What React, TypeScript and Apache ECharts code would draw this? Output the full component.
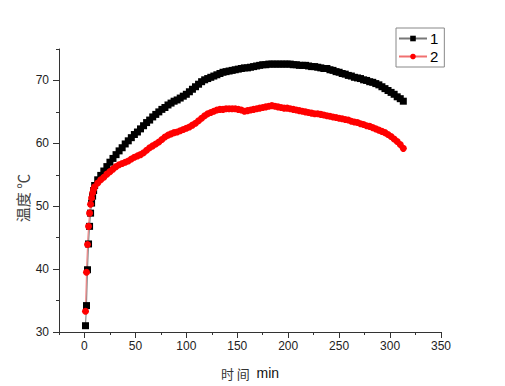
import React, { useEffect, useRef } from "react";
import * as echarts from "echarts";

// time (min)
const times: number[] = [
  1, 2, 3, 4, 5, 6, 7, 8, 9, 10,
  13, 16, 19, 22, 25, 28, 31, 34, 37, 40, 43, 46, 49, 52, 55, 58, 61, 64, 67, 70,
  73, 76, 79, 82, 85, 88, 91, 94, 97, 100, 103, 106, 109, 112, 115, 118, 121, 124, 127, 130,
  133, 136, 139, 142, 145, 148, 151, 154, 157, 160, 163, 166, 169, 172, 175, 178, 181, 184, 187, 190,
  193, 196, 199, 202, 205, 208, 211, 214, 217, 220, 223, 226, 229, 232, 235, 238, 241, 244, 247, 250,
  253, 256, 259, 262, 265, 268, 271, 274, 277, 280, 283, 286, 289, 292, 295, 298, 301, 304, 307, 310, 313,
];

// series "1" (black squares)
const series1: number[] = [
  31.0, 34.2, 39.9, 44.0, 46.8, 48.9, 50.5, 51.6, 52.5, 53.3,
  54.2, 54.9, 55.6, 56.3, 57.0, 57.6, 58.2, 58.8, 59.3, 59.9, 60.4, 60.9, 61.4, 61.8, 62.3, 62.8, 63.3, 63.7, 64.2, 64.6,
  65.0, 65.4, 65.7, 66.1, 66.4, 66.7, 66.9, 67.2, 67.5, 67.8, 68.2, 68.6, 69.0, 69.4, 69.8, 70.1, 70.3, 70.5, 70.7, 70.9,
  71.1, 71.3, 71.4, 71.5, 71.6, 71.7, 71.8, 71.9, 72.0, 72.0, 72.1, 72.2, 72.3, 72.4, 72.5, 72.5, 72.6, 72.6, 72.6, 72.6,
  72.6, 72.6, 72.6, 72.6, 72.5, 72.5, 72.4, 72.4, 72.4, 72.3, 72.2, 72.2, 72.1, 72.0, 71.9, 71.9, 71.7, 71.6, 71.4, 71.3,
  71.1, 71.0, 70.8, 70.7, 70.5, 70.4, 70.3, 70.1, 70.0, 69.8, 69.7, 69.5, 69.3, 69.0, 68.7, 68.4, 68.1, 67.8, 67.4, 67.1, 66.7,
];

// series "2" (red circles)
const series2: number[] = [
  33.3, 39.5, 43.9, 46.8, 48.9, 50.3, 51.3, 52.1, 52.7, 53.1,
  53.7, 54.2, 54.6, 55.1, 55.5, 55.9, 56.3, 56.6, 56.8, 57.0, 57.2, 57.5, 57.8, 58.0, 58.2, 58.5, 58.9, 59.3, 59.6, 59.9,
  60.2, 60.6, 61.0, 61.3, 61.5, 61.7, 61.8, 62.0, 62.2, 62.4, 62.6, 62.9, 63.2, 63.6, 64.0, 64.4, 64.7, 64.9, 65.1, 65.3,
  65.4, 65.4, 65.5, 65.5, 65.5, 65.5, 65.4, 65.3, 65.1, 65.2, 65.3, 65.4, 65.5, 65.6, 65.7, 65.8, 65.9, 66.0, 65.9, 65.8,
  65.7, 65.6, 65.6, 65.5, 65.4, 65.3, 65.2, 65.1, 65.0, 64.9, 64.8, 64.7, 64.7, 64.6, 64.5, 64.4, 64.3, 64.2, 64.1, 64.0,
  63.9, 63.8, 63.7, 63.5, 63.4, 63.3, 63.1, 63.0, 62.8, 62.7, 62.5, 62.3, 62.1, 61.9, 61.7, 61.4, 61.1, 60.7, 60.3, 59.8, 59.2,
];

const xMajor: number[] = [0, 50, 100, 150, 200, 250, 300, 350];
const xMinor: number[] = [-25, 25, 75, 125, 175, 225, 275, 325];
const yMajor: number[] = [30, 40, 50, 60, 70];
const yMinor: number[] = [35, 45, 55, 65, 75];

export default function App() {
  const ref = useRef<HTMLDivElement>(null);
  useEffect(() => {
    if (!ref.current) return;
    const chart = echarts.init(ref.current, undefined, { renderer: "svg" });
    const axisColor = "#333";
    const labelFont = "Liberation Sans, Arial, sans-serif";
    const d1 = times.map((t, i) => [t, series1[i]]);
    const d2 = times.map((t, i) => [t, series2[i]]);
    chart.setOption({
      animation: false,
      backgroundColor: "#fff",
      grid: { left: 59, right: 64, top: 49, bottom: 54, containLabel: false },
      legend: {
        orient: "vertical",
        left: 396,
        top: 28,
        width: 56,
        borderColor: "#888",
        borderWidth: 1,
        borderRadius: 0,
        padding: [3, 6, 3, 2],
        itemGap: 3,
        itemWidth: 28,
        itemHeight: 7,
        textStyle: { fontSize: 15, color: "#000", fontFamily: labelFont, padding: [0, 0, 0, -2] },
        data: ["1", "2"],
      },
      xAxis: [
        {
          type: "value",
          min: -25,
          max: 350,
          position: "bottom",
          splitLine: { show: false },
          axisLine: { show: true, onZero: false, lineStyle: { color: axisColor, width: 1 } },
          axisTick: { show: true, inside: false, length: 6, customValues: xMajor, lineStyle: { color: axisColor } },
          axisLabel: { customValues: xMajor, margin: 8, fontSize: 12, color: "#222", fontFamily: labelFont },
          name: "{a|时 间}  {b|min}",
          nameLocation: "middle",
          nameGap: 34,
          nameTextStyle: {
            rich: {
              a: { fontSize: 13, color: "#333", fontFamily: "Noto Sans CJK SC" },
              b: { fontSize: 14, color: "#111", fontFamily: labelFont },
            },
          },
        },
        {
          type: "value",
          min: -25,
          max: 350,
          position: "bottom",
          splitLine: { show: false },
          axisLine: { show: false, onZero: false },
          axisTick: { show: true, inside: false, length: 3, customValues: xMinor, lineStyle: { color: axisColor } },
          axisLabel: { show: false },
        },
      ],
      yAxis: [
        {
          type: "value",
          min: 30,
          max: 75,
          position: "left",
          splitLine: { show: false },
          axisLine: { show: true, onZero: false, lineStyle: { color: axisColor, width: 1 } },
          axisTick: { show: true, inside: false, length: 6, customValues: yMajor, lineStyle: { color: axisColor } },
          axisLabel: { customValues: yMajor, margin: 10, fontSize: 12, color: "#222", fontFamily: labelFont },
        },
        {
          type: "value",
          min: 30,
          max: 75,
          position: "left",
          offset: 0,
          splitLine: { show: false },
          axisLine: { show: false, onZero: false },
          axisTick: { show: true, inside: false, length: 3, customValues: yMinor, lineStyle: { color: axisColor } },
          axisLabel: { show: false },
        },
      ],
      graphic: [
        {
          type: "text",
          x: 22,
          y: 198,
          rotation: Math.PI / 2,
          style: {
            text: "温度 ℃",
            fontSize: 15,
            fill: "#444",
            fontFamily: "Noto Sans CJK SC",
            align: "center",
            verticalAlign: "middle",
          },
        },
      ],
      series: [
        {
          name: "1",
          type: "line",
          xAxisIndex: 0,
          yAxisIndex: 0,
          data: d1,
          symbol: "rect",
          symbolSize: 7,
          showAllSymbol: true,
          itemStyle: { color: "#000" },
          lineStyle: { color: "#777", width: 1 },
        },
        {
          name: "2",
          type: "line",
          xAxisIndex: 0,
          yAxisIndex: 0,
          data: d2,
          symbol: "circle",
          symbolSize: 7,
          showAllSymbol: true,
          itemStyle: { color: "#ff0000" },
          lineStyle: { color: "#f07070", width: 1 },
        },
      ],
    });
    return () => chart.dispose();
  }, []);
  return (
    <div
      ref={ref}
      style={{ position: "fixed", left: 0, top: 0, width: 505, height: 386, background: "#fff" }}
    />
  );
}
